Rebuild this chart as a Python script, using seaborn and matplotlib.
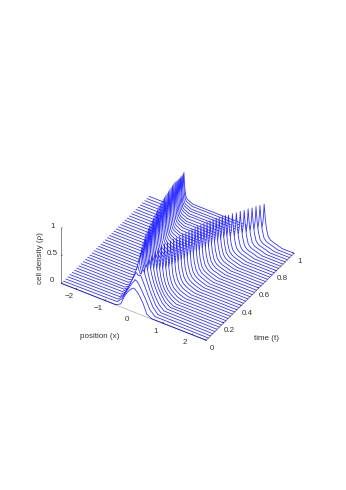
import matplotlib
matplotlib.use('Agg')
import matplotlib.pyplot as plt
import seaborn as sns
from matplotlib.collections import PolyCollection

# one entry per drawn time line
t_lines = [0, .025, .05, .075, .1, .125, .15, .175, .2, .225, .25, .275, .3, .325, .35, .375, .4, .425, .45, .475,
           .5, .525, .55, .575, .6, .625, .65, .675, .7, .725, .75, .775, .8, .825, .85, .875, .9, .925, .95, .975, 1]
left_peak_x = [0, -.03, -.06, -.09, -.12, -.15, -.18, -.21, -.24, -.27, -.30, -.33, -.36, -.39, -.42, -.45, -.48,
               -.51, -.54, -.57, -.60, -.62, -.65, -.68, -.71, -.74, -.77, -.80, -.83, -.86, -.89, -.92, -.96,
               -1.00, -1.04, -1.08, -1.12, -1.17, -1.21, -1.25, -1.30]
right_peak_x = [0, .03, .06, .09, .12, .15, .18, .21, .24, .27, .30, .33, .36, .39, .42, .45, .48, .51, .54, .57,
                .60, .62, .65, .68, .71, .74, .77, .80, .83, .86, .89, .92, .98, 1.04, 1.10, 1.16, 1.22, 1.28,
                1.34, 1.40, 1.47]
left_peak_rho = [.43, .54, .62, .70, .78, .84, .89, .93, .96, .98, 1.0, 1.01, 1.01, 1.02, 1.02, 1.02, 1.03, 1.03,
                 1.03, 1.04, 1.04, 1.04, 1.04, 1.03, 1.02, 1.01, 1.0, .99, .98, .97, .96, .94, .90, .87, .84, .81,
                 .78, .75, .72, .70, .685]
right_peak_rho = [.43, .53, .60, .66, .72, .78, .82, .86, .88, .90, .90, .89, .89, .89, .88, .88, .88, .87, .87,
                  .87, .86, .86, .85, .84, .83, .82, .81, .80, .78, .77, .75, .72, .72, .71, .71, .70, .70, .69,
                  .69, .68, .68]
plateau_rho = [.43, .41, .39, .34, .30, .29, .29, .28, .28, .28, .27, .27, .27, .27, .26, .26, .26, .26, .25, .25,
               .25, .25, .24, .24, .24, .23, .23, .23, .22, .22, .22, .21, .21, .20, .20, .20, .19, .19, .18, .18, .17]

# density on the outer side of a ridge, at these distances from its peak
flank_dx = [.04, .08, .14, .22, .32, .45, .62]
flank_rho = [
    [.42, .40, .37, .31, .22, .05, 0], [.50, .47, .42, .34, .24, .10, .01], [.59, .54, .47, .37, .25, .11, .01],
    [.64, .57, .48, .36, .24, .10, .01], [.68, .56, .45, .33, .21, .09, .01], [.68, .55, .43, .31, .20, .09, .01],
    [.65, .50, .38, .27, .17, .07, .01], [.60, .45, .33, .22, .13, .06, 0], [.56, .40, .28, .18, .11, .05, 0],
    [.53, .36, .24, .15, .09, .04, 0], [.51, .33, .21, .13, .08, .03, 0], [.49, .31, .19, .11, .07, .03, 0],
    [.49, .30, .18, .11, .06, .03, 0], [.48, .30, .18, .11, .06, .03, 0], [.48, .30, .18, .10, .06, .03, 0],
    [.48, .30, .17, .10, .06, .03, 0], [.47, .29, .17, .10, .06, .03, 0], [.47, .29, .17, .10, .06, .03, 0],
    [.47, .29, .16, .10, .06, .03, 0], [.46, .29, .16, .09, .06, .03, 0], [.46, .28, .16, .09, .06, .03, 0],
    [.46, .28, .15, .09, .06, .03, 0], [.46, .28, .15, .09, .05, .03, 0], [.45, .28, .15, .09, .05, .03, 0],
    [.45, .28, .15, .09, .05, .03, 0], [.45, .27, .14, .08, .05, .03, 0], [.45, .27, .14, .08, .05, .03, 0],
    [.44, .27, .14, .08, .05, .03, 0], [.44, .27, .14, .08, .05, .03, 0], [.44, .27, .13, .08, .05, .03, 0],
    [.44, .26, .13, .08, .05, .03, 0], [.44, .26, .13, .08, .05, .03, 0], [.43, .26, .13, .08, .05, .03, 0],
    [.43, .26, .13, .07, .05, .03, 0], [.43, .26, .13, .07, .05, .03, 0], [.43, .26, .12, .07, .05, .03, 0],
    [.43, .25, .12, .07, .05, .03, 0], [.42, .25, .12, .07, .05, .03, 0], [.42, .25, .12, .07, .05, .03, 0],
    [.42, .25, .12, .07, .05, .03, 0], [.42, .25, .12, .07, .05, .03, 0],
]

x_ticks = [-2, -1, 0, 1, 2]
t_ticks = [0, .2, .4, .6, .8, 1]
rho_ticks = [0, .5, 1]


def line_profile(i):
    lp, rp = left_peak_x[i], right_peak_x[i]
    lh, rh, low = left_peak_rho[i], right_peak_rho[i], plateau_rho[i]
    outer = flank_rho[i]
    # inner flanks fall about twice as fast and only run as far as the middle between the ridges
    inner_dx = [d * 0.5 for d in flank_dx]
    keep = [k for k, d in enumerate(inner_dx) if d < (rp - lp) / 2]
    xs = [-2.5] + [lp - d for d in flank_dx[::-1]] + [lp] + [lp + inner_dx[k] for k in keep]
    ys = [0] + outer[::-1] + [lh] + [low + outer[k] * (lh - low) / lh for k in keep]
    xs += [rp - inner_dx[k] for k in keep[::-1]] + [rp] + [rp + d for d in flank_dx] + [2.5]
    ys += [low + outer[k] * (rh - low) / rh for k in keep[::-1]] + [rh] + outer + [0]
    return xs, ys


sns.set_style('white')
plt.rcParams['font.family'] = ['Liberation Sans', 'DejaVu Sans']
blue = sns.color_palette(['#0000ff'])[0]

fig = plt.figure(figsize=(3.46, 4.9), dpi=100)
ax = fig.add_axes([0 / 346, -0.5 / 490, 1, 1], projection='3d', computed_zorder=False)
ax.set_proj_type('ortho')
ax.view_init(elev=38.6, azim=-57.8)
ax.set_box_aspect((171.4, 165, 70.4), zoom=0.695)

for i, t in enumerate(t_lines):
    xs, ys = line_profile(i)
    order = 10 + 2 * (len(t_lines) - i)
    ribbon = PolyCollection([list(zip(xs, ys))], facecolors='white', edgecolors='none', zorder=order)
    ax.add_collection3d(ribbon, zs=t, zdir='y')
    sns.lineplot(x=xs, y=ys, ax=ax, sort=False, estimator=None, color=blue, linewidth=0.6, alpha=0.8, legend=False,
                 zs=t, zdir='y', zorder=order + 1)

ax.set_xlim(-2.5, 2.5, view_margin=0)
ax.set_ylim(0, 1, view_margin=0)
ax.set_zlim(0, 1, view_margin=0)
ax.set_xticks(x_ticks)
ax.set_yticks(t_ticks)
ax.set_zticks(rho_ticks)
ax.set_xticklabels(['\u22122', '\u22121', '0', '1', '2'], va='bottom')
ax.set_yticklabels(['0', '0.2', '0.4', '0.6', '0.8', '1'])
ax.set_zticklabels(['0', '0.5', '1'], va='bottom')
ax.set_xlabel('')
ax.set_ylabel('')
ax.set_zlabel('')
ax.grid(False)
ax.zaxis.set_ticks_position('lower')
for axis in (ax.xaxis, ax.yaxis, ax.zaxis):
    axis.pane.set_visible(False)
    axis.line.set_color('#777777')
    axis.line.set_linewidth(0.6)
    axis._axinfo['tick']['inward_factor'] = 0
    axis._axinfo['tick']['outward_factor'] = 0.12
    axis._axinfo['tick']['linewidth'] = {True: 0.5, False: 0.5}
    axis._axinfo['tick']['color'] = '#777777'
ax.tick_params(labelsize=5.8, pad=-3, colors='#333333')
ax.tick_params(axis='x', pad=2.5)

fig.text(100 / 346, 1 - 336 / 490, 'position (x)', fontsize=5.8, ha='center', va='center', color='#333333')
fig.text(266 / 346, 1 - 339 / 490, 'time (t)', fontsize=5.8, ha='center', va='center', color='#333333')
fig.text(40 / 346, 1 - 258 / 490, 'cell density (\u03c1)', fontsize=5.8, ha='center', va='center', rotation=90,
         color='#333333')

fig.savefig('out.png', dpi=100)
